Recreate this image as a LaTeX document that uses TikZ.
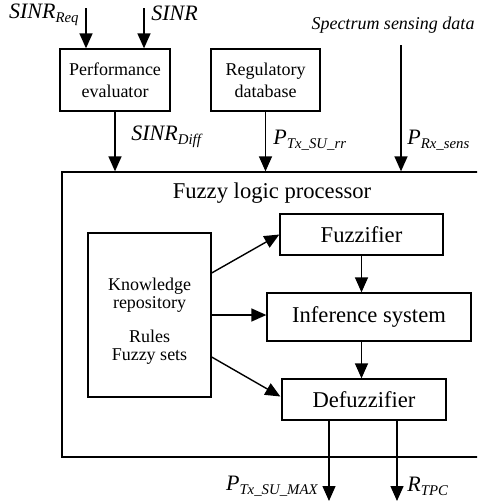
\documentclass[tikz,border=0pt]{standalone}
\usepackage{fontspec}
\setmainfont{Liberation Serif}
\usetikzlibrary{arrows.meta,calc}
\newcommand{\sgl}[2]{\textit{#1}\raisebox{-2pt}{\fontsize{7.4}{8}\selectfont\itshape #2}}
\tikzset{
  blk/.style={draw,line width=0.65pt,inner sep=0pt,align=center},
  klein/.style={font=\fontsize{9}{11}\selectfont},
  gross/.style={font=\fontsize{11.3}{13}\selectfont},
  arr/.style={-{Triangle[length=7.5pt,width=6.5pt]},line width=0.7pt},
  sig/.style={inner sep=0pt,font=\fontsize{11}{13}\selectfont},
}
\begin{document}
\begin{tikzpicture}[x=0.5pt,y=-0.5pt]
  \clip (0,0) rectangle (477,503);
  % Bloecke oben
  \node[blk,klein,minimum width=55pt,minimum height=31pt] (perf) at (115,80) {Performance\\evaluator};
  \node[blk,klein,minimum width=54.5pt,minimum height=31pt] (reg) at (265.5,80) {Regulatory\\database};
  % Fuzzy logic processor (rechts offen)
  \node[blk,minimum width=214pt,minimum height=142.5pt] (flp) at (276,314.5) {};
  \node[gross] (flptitel) at (272,193) {Fuzzy logic processor};
  \node[blk,minimum width=61.5pt,minimum height=82pt] (know) at (149.5,315) {};
  \node[klein,align=center,inner sep=0pt] (knowtext) at ($(know)+(0,6)$)
    {Knowledge\\[-2pt]repository\\[6pt]Rules\\[-2pt]Fuzzy sets};
  \node[blk,gross,minimum width=81.5pt,minimum height=20.5pt] (fuzz) at (361.5,234.5) {Fuzzifier};
  \node[blk,gross,minimum width=102pt,minimum height=24pt] (inf) at (369,317) {Inference system};
  \node[blk,gross,minimum width=82pt,minimum height=20.5pt] (defuzz) at (364,399.5) {Defuzzifier};
  % Eingaenge
  \coordinate (inreq) at (86,8);
  \coordinate (insinr) at (144,8);
  \coordinate (insens) at (401,45);
  \draw[arr] (inreq) -- (inreq |- perf.north);
  \draw[arr] (insinr) -- (insinr |- perf.north);
  \draw[arr] (perf.south) -- (perf.south |- flp.north);
  \draw[arr] (reg.south) -- (reg.south |- flp.north);
  \draw[arr] (insens) -- (insens |- flp.north);
  \node[sig,anchor=east] (lreq) at (79,15) {\sgl{SINR}{Req}};
  \node[sig,anchor=west] (lsinr) at (151,13) {\textit{SINR}};
  \node[sig,anchor=west] (ldiff) at (131,137) {\sgl{SINR}{Diff}};
  \node[sig,anchor=west] (lrr) at (273,140) {\sgl{P}{Tx\_SU\_rr}};
  \node[inner sep=0pt,font=\fontsize{9}{11}\selectfont\itshape] (lsens) at (393,25) {Spectrum sensing data};
  \node[sig,anchor=west] (lrx) at (407,140) {\sgl{P}{Rx\_sens}};
  % innen
  \draw[arr] ($(know.east)+(0,-42)$) -- (fuzz.west);
  \draw[arr] (know.east) -- (know.east -| inf.west);
  \draw[arr] ($(know.east)+(0,42)$) -- ($(defuzz.west)+(-1,-3)$);
  \draw[arr] (fuzz.south) -- (fuzz.south |- inf.north);
  \draw[arr] (fuzz.south |- inf.south) -- (fuzz.south |- defuzz.north);
  % Ausgaenge
  \coordinate (outmax) at (329,501);
  \coordinate (outtpc) at (397,501);
  \draw[arr] (defuzz.south -| outmax) -- (outmax);
  \draw[arr] (defuzz.south -| outtpc) -- (outtpc);
  \node[sig,anchor=east] (lmax) at (318,486) {\sgl{P}{Tx\_SU\_MAX}};
  \node[sig,anchor=west] (ltpc) at (407,486) {\sgl{R}{TPC}};
\end{tikzpicture}
\end{document}
